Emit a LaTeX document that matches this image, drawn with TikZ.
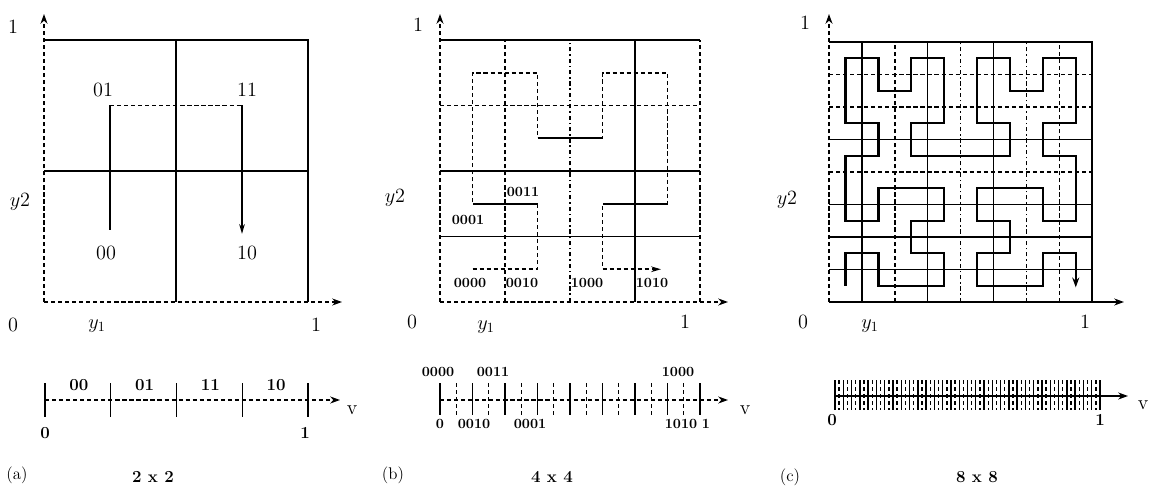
\documentclass[tikz,border=0pt]{standalone}
\usetikzlibrary{arrows.meta}
\tikzset{
  axis/.style={line width=1pt,-{Stealth[length=7pt,width=5pt]}},
  gridline/.style={line width=1.1pt},
  boldline/.style={line width=1.8pt},
  hcurve/.style={line width=1.4pt},
  hcurvebold/.style={line width=1.7pt},
  tick/.style={line width=1pt},
  lbl/.style={font=\Large},
  code/.style={font=\Large},
  smallcode/.style={font=\normalsize\bfseries},
  caption/.style={font=\large\bfseries},
}
\begin{document}
\begin{tikzpicture}[x=0.025cm,y=-0.025cm]
\useasboundingbox (0,0) rectangle (1152,492);

% ---------- (a) 2 x 2 ----------
\begin{scope}[shift={(44,302)},xscale=132,yscale=-131]
  \draw[gridline] (0,2) -- (2,2) -- (2,0);
  \draw[gridline] (0,1) -- (2,1);
  \draw[boldline] (1,0) -- (1,2);
  \draw[hcurve] (0.5,0.55) -- (0.5,1.5);
  \draw[hcurve,densely dashed] (0.5,1.5) -- (1.5,1.5);
  \draw[hcurve,-{Stealth[length=7pt,width=4pt]}] (1.5,1.5) -- (1.5,0.52);
\end{scope}
\draw[axis,densely dashed] (44,302) -- (342,302);
\draw[axis,densely dashed] (44,302) -- (44,14);
\node[lbl] (aone) at (13,27) {1};
\node[lbl] (ay) at (20,202) {$y2$};
\node[lbl] (azero) at (13,325) {0};
\node[lbl] (ax) at (97,326) {$y_1$};
\node[lbl] (aonex) at (316,325) {1};
\node[code] (a01) at (103,90) {01};
\node[code] (a11) at (247,90) {11};
\node[code] (a00) at (106,253) {00};
\node[code] (a10) at (247,253) {10};

% number line (a)
\draw[axis,densely dashed] (45,400) -- (340,400);
\foreach \i in {0,...,4} {
  \draw[tick] (45+65.75*\i,383) -- (45+65.75*\i,417);
}
\foreach \t [count=\i] in {00,01,11,10} {
  \node[font=\large\bfseries] (aline\i) at (45+65.75*\i-32,385) {\t};
}
\node[font=\large\bfseries] (alzero) at (45,433) {0};
\node[font=\large\bfseries] (alone) at (305,433) {1};
\node[lbl] (av) at (352,410) {v};
\node[font=\large] (acap) at (17,475) {(a)};
\node[caption] (asize) at (153,477) {2 x 2};

% ---------- (b) 4 x 4 ----------
\begin{scope}[shift={(440,302)},xscale=65,yscale=-65.5]
  \draw[gridline] (0,4) -- (4,4);
  \draw[gridline,densely dashed] (4,0) -- (4,4);
  \foreach \i/\s in {1/densely dashed,2/dashdotted,3/solid} {
    \draw[gridline,\s] (\i,0) -- (\i,4);
  }
  \foreach \j/\s in {1/solid,2/solid,3/densely dashed} {
    \draw[gridline,\s] (0,\j) -- (4,\j);
  }
  \draw[hcurve,densely dashed,-{Stealth[length=7pt,width=4pt]}]
    (0.5,0.5) -- (1.5,0.5) -- (1.5,1.5) -- (0.5,1.5) -- (0.5,3.5) -- (1.5,3.5)
    -- (1.5,2.5) -- (2.5,2.5) -- (2.5,3.5) -- (3.5,3.5) -- (3.5,1.5) -- (2.5,1.5)
    -- (2.5,0.5) -- (3.4,0.5);
  \draw[hcurve] (1.5,1.5) -- (0.5,1.5);
  \draw[hcurve] (1.5,2.5) -- (2.5,2.5);
  \draw[hcurve] (3.5,1.5) -- (2.5,1.5);
\end{scope}
\draw[axis,densely dashed] (440,302) -- (728,302);
\draw[axis,densely dashed] (440,302) -- (440,14);
\node[lbl] (bone) at (418,25) {1};
\node[lbl] (by) at (395,198) {$y2$};
\node[lbl] (bzero) at (412,322) {0};
\node[lbl] (bx) at (486,327) {$y_1$};
\node[lbl] (bonex) at (685,322) {1};
\node[smallcode] (b0000) at (470,283) {0000};
\node[smallcode] (b0010) at (522,283) {0010};
\node[smallcode] (b1000) at (587,283) {1000};
\node[smallcode] (b1010) at (652,283) {1010};
\node[smallcode] (b0001) at (468,220) {0001};
\node[smallcode] (b0011) at (523,192) {0011};

% number line (b)
\draw[axis,densely dashed] (440,400) -- (728,400);
\foreach \i in {0,2,...,16} {
  \draw[tick] (440+16.25*\i,383) -- (440+16.25*\i,415);
}
\foreach \i in {1,3,...,15} {
  \draw[tick,densely dashed] (440+16.25*\i,383) -- (440+16.25*\i,415);
}
\node[smallcode] (bl0000) at (438,372) {0000};
\node[smallcode] (bl0011) at (493,372) {0011};
\node[smallcode] (bl1000) at (678,372) {1000};
\node[smallcode] (blzero) at (440,424) {0};
\node[smallcode] (bl0010) at (474,424) {0010};
\node[smallcode] (bl0001) at (530,424) {0001};
\node[smallcode] (bl1010) at (681,424) {1010};
\node[smallcode] (blone) at (706,424) {1};
\node[lbl] (bv) at (745,410) {v};
\node[font=\large] (bcap) at (393,475) {(b)};
\node[caption] (bsize) at (552,477) {4 x 4};

% ---------- (c) 8 x 8 ----------
\begin{scope}[shift={(829,302)},xscale=32.9,yscale=-32.5]
  \draw[boldline] (0,8) -- (8,8) -- (8,0);
  \foreach \i/\s in {1/solid,2/densely dashed,3/solid,4/dashdotted,5/solid,6/dashdotted,7/densely dashed} {
    \draw[gridline,\s] (\i,0) -- (\i,8);
  }
  \foreach \j/\s in {1/solid,2/solid,3/solid,4/densely dashed,5/solid,6/densely dashed,7/densely dashed} {
    \draw[gridline,\s] (0,\j) -- (8,\j);
  }
\end{scope}
\begin{scope}[shift={(845.45,285.75)},xscale=32.9,yscale=-32.5]
  \draw[hcurvebold,-{Stealth[length=7pt,width=5pt]}]
    (0,0) -- (0,1) -- (1,1) -- (1,0) -- (2,0) -- (3,0) -- (3,1) -- (2,1)
    -- (2,2) -- (3,2) -- (3,3) -- (2,3) -- (1,3) -- (1,2) -- (0,2) -- (0,3)
    -- (0,4) -- (1,4) -- (1,5) -- (0,5) -- (0,6) -- (0,7) -- (1,7) -- (1,6)
    -- (2,6) -- (2,7) -- (3,7) -- (3,6) -- (3,5) -- (2,5) -- (2,4) -- (3,4)
    -- (4,4) -- (5,4) -- (5,5) -- (4,5) -- (4,6) -- (4,7) -- (5,7) -- (5,6)
    -- (6,6) -- (6,7) -- (7,7) -- (7,6) -- (7,5) -- (6,5) -- (6,4) -- (7,4)
    -- (7,3) -- (7,2) -- (6,2) -- (6,3) -- (5,3) -- (4,3) -- (4,2) -- (5,2)
    -- (5,1) -- (4,1) -- (4,0) -- (5,0) -- (6,0) -- (6,1) -- (7,1) -- (7,-0.05);
\end{scope}
\draw[axis] (829,302) -- (1124,302);
\draw[axis,densely dashed] (829,302) -- (829,14);
\node[lbl] (cone) at (805,23) {1};
\node[lbl] (cy) at (787,200) {$y2$};
\node[lbl] (czero) at (803,322) {0};
\node[lbl] (cx) at (870,326) {$y_1$};
\node[lbl] (conex) at (1085,322) {1};

% number line (c)
\draw[axis] (835,396) -- (1128,396);
\foreach \i in {0,2,...,64} {
  \draw[tick] (835+4.1406*\i,380) -- (835+4.1406*\i,410);
}
\foreach \i in {1,3,...,63} {
  \draw[tick,densely dashed] (835+4.1406*\i,380) -- (835+4.1406*\i,410);
}
\node[font=\large\bfseries] (clzero) at (832,420) {0};
\node[font=\large\bfseries] (clone) at (1100,420) {1};
\node[lbl] (cv) at (1143,405) {v};
\node[font=\large] (ccap) at (790,477) {(c)};
\node[caption] (csize) at (977,477) {8 x 8};
\end{tikzpicture}
\end{document}
